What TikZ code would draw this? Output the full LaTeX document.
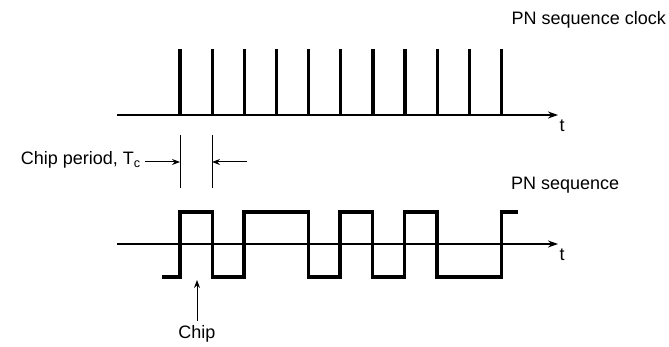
\documentclass[tikz,border=0pt]{standalone}
\usepackage{fontspec}
\setmainfont{Liberation Sans}
\usetikzlibrary{arrows.meta, positioning}

\begin{document}
\begin{tikzpicture}[
    x=1pt, y=-1pt,
    axis/.style={-{Stealth[length=10pt,width=7pt]},line width=1.5pt},
    pulse/.style={line width=3.2pt},
    wave/.style={line width=3.2pt,line join=miter},
    tick/.style={line width=1pt},
    dim/.style={-{Stealth[length=8pt,width=6pt]},line width=1pt},
    lbl/.style={font=\fontsize{18}{20}\selectfont,inner sep=0pt}
]
  \useasboundingbox (0,0) rectangle (669,347);

  % Clock
  \coordinate (clkstart) at (117,115);
  \coordinate (clkend) at (558,115);
  \draw[axis] (clkstart) -- (clkend);
  \node[lbl,anchor=north] (tclk) at (562,120) {t};
  \foreach \i in {0,...,10}
    \draw[pulse] ({180+32.15*\i},115) -- ({180+32.15*\i},49);
  \node[lbl,anchor=east] (clklabel) at (666,20) {PN sequence clock};

  % Chip period
  \coordinate (tickA) at (180,162);
  \coordinate (tickB) at (212,162);
  \draw[tick] (180,135) -- (180,188);
  \draw[tick] (212,135) -- (212,188);
  \node[lbl,anchor=east] (period) at (141,160) {Chip period, T\textsubscript{c}};
  \draw[dim] (period.east) ++(4,2) coordinate (dimL) (dimL) -- (tickA);
  \coordinate (dimR) at (247,162);
  \draw[dim] (dimR) -- (tickB);

  % PN sequence
  \coordinate (seqstart) at (117,244);
  \coordinate (seqend) at (558,244);
  \draw[axis] (seqstart) -- (seqend);
  \node[lbl,anchor=north] (tseq) at (562,249) {t};
  \draw[wave] (162,277) -- (180,277) -- (180,212) -- (212.5,212) -- (212.5,277)
    -- (244,277) -- (244,212) -- (308.5,212) -- (308.5,277) -- (340,277)
    -- (340,212) -- (372.5,212) -- (372.5,277) -- (404.5,277) -- (404.5,212)
    -- (437,212) -- (437,277) -- (501.5,277) -- (501.5,212) -- (518,212);
  \node[lbl,anchor=west] (seqlabel) at (511,185) {PN sequence};

  % Chip
  \node[lbl,anchor=north] (chip) at (197,325) {Chip};
  \coordinate (chiptip) at (197,280);
  \draw[dim] (chip.north) ++(0,-4) coordinate (chiptail) (chiptail) -- (chiptip);
\end{tikzpicture}
\end{document}
